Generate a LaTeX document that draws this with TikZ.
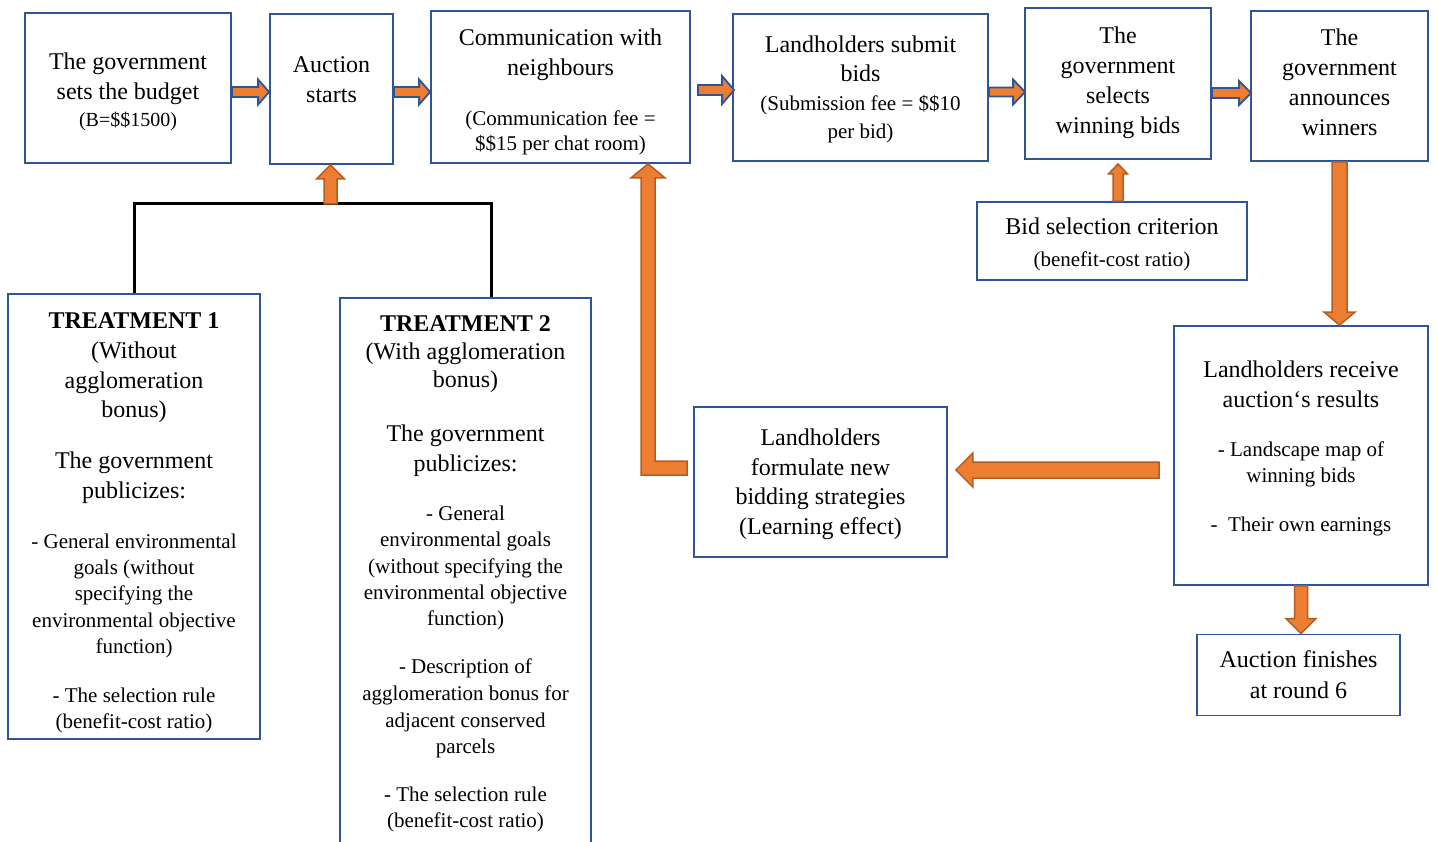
\documentclass[tikz,border=0pt]{standalone}
\usepackage{fontspec}
\setmainfont{Liberation Serif}
\usetikzlibrary{calc}
\definecolor{boxblue}{HTML}{2F5597}
\definecolor{aorange}{HTML}{ED7D31}
\definecolor{adark}{HTML}{B05E24}
\newcommand{\fbig}{\fontsize{24}{30}\selectfont}
\newcommand{\fsm}{\fontsize{21}{26}\selectfont}
\newcommand{\fsmb}{\fontsize{20}{26}\selectfont}
\newcommand{\blockarrow}[6]{%
  \coordinate (bac) at ($(#3)!#6!(#2)$);
  \draw[#1] ($(#2)!#4!90:(#3)$) -- ($(bac)!#4!90:(#3)$) -- ($(bac)!#5!90:(#3)$) -- (#3)
    -- ($(bac)!#5!-90:(#3)$) -- ($(bac)!#4!-90:(#3)$) -- ($(#2)!#4!-90:(#3)$) -- cycle;
}
\tikzset{
  box/.style={draw=boxblue, line width=1.8pt, rectangle, inner sep=2pt, align=center, font=\fbig},
  arrowO/.style={fill=aorange, draw=adark, line width=1.5pt, line join=miter},
  arrowB/.style={fill=aorange, draw=boxblue, line width=1.8pt, line join=miter},
  bracket/.style={draw=black, line width=3pt}
}
\begin{document}
\begin{tikzpicture}[x=1pt,y=-1pt]
\useasboundingbox (0,0) rectangle (1437,841);
\clip (0,0) rectangle (1437,841);
% top row
\node[box, minimum width=206pt, minimum height=150pt, text depth=0pt] (b1) at (128,88)
  {\rule{0pt}{20.6pt}The government\\ sets the budget\\[-3pt] {\fsmb (B=\$\$1500)}};
\node[box, minimum width=123pt, minimum height=150pt, text depth=18pt] (b2) at (331.5,89)
  {Auction\\ starts};
\node[box, minimum width=259pt, minimum height=152pt, text depth=0pt] (b3) at (560.5,87)
  {\rule{0pt}{21.6pt}Communication with\\ neighbours\\[20pt] {\fsm (Communication fee =}\\[-5pt] {\fsm \$\$15 per chat room)}};
\node[box, minimum width=255pt, minimum height=147pt, text depth=0pt] (b4) at (860.5,87.5)
  {Landholders submit\\[-1pt] bids\\[-1pt] {\fsm (Submission fee = \$\$10}\\[-2pt] {\fsm per bid)}};
\node[box, minimum width=186pt, minimum height=151pt, text depth=6pt] (b5) at (1118,83.5)
  {The\\ government\\ selects\\ winning bids};
\node[box, minimum width=177pt, minimum height=150pt, text depth=8pt] (b6) at (1339.5,86)
  {The\\ government\\ announces\\ winners};
\node[box, minimum width=270pt, minimum height=78pt, text depth=0pt] (b7) at (1112,241)
  {\rule{0pt}{19.6pt}Bid selection criterion\\[2pt] {\fsm (benefit-cost ratio)}};
\node[box, minimum width=254pt, minimum height=259pt, text depth=18.5pt] (b8) at (1301,455.5)
  {Landholders receive\\ auction‘s results\\[19pt] {\fsm - Landscape map of}\\[-4pt] {\fsm winning bids}\\[19pt] {\fsm -\ \ Their own earnings}};
\node[box, minimum width=203pt, minimum height=81pt] (b9) at (1298.5,675)
  {Auction finishes\\[1pt] at round 6};
\node[box, minimum width=253pt, minimum height=150pt, text depth=1pt] (b10) at (820.5,482)
  {Landholders\\ formulate new\\[-1pt] bidding strategies\\ (Learning effect)};
\node[box, minimum width=252pt, minimum height=445pt, text depth=0pt] (b11) at (134,516.5)
  {\rule{0pt}{24pt}\textbf{TREATMENT 1}\\ (Without\\ agglomeration\\[-1pt] bonus)\\[21pt] The government\\ publicizes:\\[20pt]
   {\fsm - General environmental}\\[-4pt] {\fsm goals (without}\\[-4pt] {\fsm specifying the}\\[-3pt]
   {\fsm environmental objective}\\[-4pt] {\fsm function)}\\[19pt] {\fsm - The selection rule}\\[-4pt]
   {\fsm (benefit-cost ratio)}};
\node[box, anchor=north, minimum width=251pt, minimum height=552pt] (b12) at (465.5,297)
  {\textbf{TREATMENT 2}\\[-2pt] (With agglomeration\\[-2pt] bonus)\\[24pt] The government\\ publicizes:\\[19pt]
   {\fsm - General}\\[-4pt] {\fsm environmental goals}\\[-3pt] {\fsm (without specifying the}\\[-4pt]
   {\fsm environmental objective}\\[-4pt] {\fsm function)}\\[18pt] {\fsm - Description of}\\[-3pt]
   {\fsm agglomeration bonus for}\\[-3pt] {\fsm adjacent conserved}\\[-4pt] {\fsm parcels}\\[18pt]
   {\fsm - The selection rule}\\[-4pt] {\fsm (benefit-cost ratio)}};
% connector end points
\coordinate (s12) at ($(b1.east)+(0,4)$);
\coordinate (t12) at (b2.west |- s12);
\coordinate (s23) at ($(b2.east)+(0,3)$);
\coordinate (t23) at (b3.west |- s23);
\coordinate (s34) at ($(b3.east)+(7,3)$);
\coordinate (t34) at ($(b4.west |- s34)+(2,0)$);
\coordinate (s45) at ($(b4.east)+(0,4.5)$);
\coordinate (t45) at ($(b5.west |- s45)+(1,0)$);
\coordinate (s56) at ($(b5.east)+(0,9.5)$);
\coordinate (t56) at ($(b6.west |- s56)+(1,0)$);
\coordinate (brk) at ($(b2.south)+(-1,39)$);
\coordinate (btip) at ($(b2.south)+(-1,0)$);
\coordinate (bR) at ($(b12.north)+(25.5,0)$);
\coordinate (s75) at (b5.south |- b7.north);
\coordinate (t75) at ($(b5.south)+(0,4)$);
\coordinate (t68) at (b6.south |- b8.north);
\coordinate (s810) at ($(b8.west)+(-14,14.5)$);
\coordinate (t810) at ($(b10.east |- s810)+(8,0)$);
\coordinate (t89) at (b8.south |- b9.north);
\coordinate (Ltip) at ($(b3.south)+(87.5,0)$);
\coordinate (Lstart) at ($(b10.west)+(-6,-14)$);
% bracket
\draw[bracket] (b11.north) |- (brk) -| (bR);
% arrows
\blockarrow{arrowB}{s12}{t12}{5pt}{12.5pt}{11pt}
\blockarrow{arrowB}{s23}{t23}{5pt}{12.5pt}{11pt}
\blockarrow{arrowB}{s34}{t34}{5pt}{14pt}{12pt}
\blockarrow{arrowB}{s45}{t45}{4.5pt}{12.5pt}{12pt}
\blockarrow{arrowB}{s56}{t56}{5pt}{12pt}{12pt}
\blockarrow{arrowO}{brk}{btip}{6.5pt}{14pt}{14pt}
\blockarrow{arrowO}{s75}{t75}{5pt}{9.5pt}{10pt}
\blockarrow{arrowO}{b6.south}{t68}{7.5pt}{15.5pt}{13pt}
\blockarrow{arrowO}{s810}{t810}{8pt}{17pt}{17pt}
\blockarrow{arrowO}{b8.south}{t89}{6.5pt}{15pt}{15pt}
\draw[arrowO] ($(Lstart)+(0,-7)$) -- ($(Ltip |- Lstart)+(7,-7)$) -- ($(Ltip)+(7,14)$) -- ($(Ltip)+(17,14)$)
  -- (Ltip) -- ($(Ltip)+(-17,14)$) -- ($(Ltip)+(-7,14)$) -- ($(Ltip |- Lstart)+(-7,7)$)
  -- ($(Lstart)+(0,7)$) -- cycle;
\end{tikzpicture}
\end{document}
